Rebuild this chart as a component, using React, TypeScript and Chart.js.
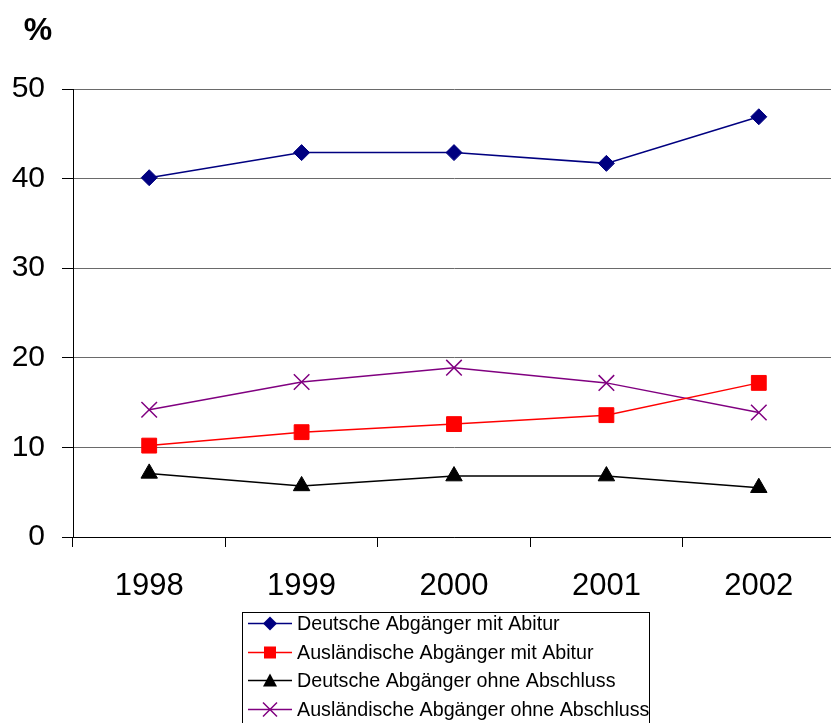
import React, { useEffect, useRef } from 'react';
import { Chart, registerables } from 'chart.js';

Chart.register(...registerables);

const years = ['1998', '1999', '2000', '2001', '2002'];
const deutscheMitAbitur = [40.1, 42.9, 42.9, 41.7, 46.9];
const auslaendischeMitAbitur = [10.2, 11.7, 12.6, 13.6, 17.2];
const deutscheOhneAbschluss = [7.1, 5.7, 6.8, 6.8, 5.5];
const auslaendischeOhneAbschluss = [14.2, 17.3, 18.9, 17.2, 13.9];
const seriesNames = [
  'Deutsche Abgänger mit Abitur',
  'Ausländische Abgänger mit Abitur',
  'Deutsche Abgänger ohne Abschluss',
  'Ausländische Abgänger ohne Abschluss',
];
const seriesColors = ['#000080', '#FF0000', '#000000', '#800080'];
const seriesStyles = ['rectRot', 'rect', 'triangle', 'crossRot'];
const yMin = 0;
const yMax = 50;
const yStep = 10;
const unitLabel = '%';

const FONT = '"Liberation Sans", Arial, Helvetica, sans-serif';

function drawMarker(ctx: CanvasRenderingContext2D, style: string, x: number, y: number, color: string) {
  ctx.save();
  ctx.fillStyle = color;
  ctx.strokeStyle = color;
  ctx.lineWidth = 1.5;
  ctx.beginPath();
  if (style === 'rectRot') {
    const r = 7;
    ctx.moveTo(x, y - r);
    ctx.lineTo(x + r, y);
    ctx.lineTo(x, y + r);
    ctx.lineTo(x - r, y);
    ctx.closePath();
    ctx.fill();
  } else if (style === 'rect') {
    const h = 6;
    ctx.rect(x - h, y - h, 2 * h, 2 * h);
    ctx.fill();
  } else if (style === 'triangle') {
    const h = 7;
    ctx.moveTo(x, y - h);
    ctx.lineTo(x + h, y + h * 0.85);
    ctx.lineTo(x - h, y + h * 0.85);
    ctx.closePath();
    ctx.fill();
  } else {
    const h = 7;
    ctx.moveTo(x - h, y - h);
    ctx.lineTo(x + h, y + h);
    ctx.moveTo(x + h, y - h);
    ctx.lineTo(x - h, y + h);
    ctx.stroke();
  }
  ctx.restore();
}

const decorPlugin = {
  id: 'decor',
  afterDraw(chart: any) {
    const ctx: CanvasRenderingContext2D = chart.ctx;
    ctx.save();
    ctx.fillStyle = '#000';
    ctx.font = `bold 32px ${FONT}`;
    ctx.textAlign = 'center';
    ctx.textBaseline = 'middle';
    ctx.fillText(unitLabel, 38, 31);

    ctx.strokeStyle = '#000';
    ctx.lineWidth = 1;
    ctx.strokeRect(242.5, 612.5, 407, 200);
    ctx.font = `19.7px ${FONT}`;
    ctx.textAlign = 'left';
    ctx.textBaseline = 'middle';
    seriesNames.forEach((name, i) => {
      const y = Math.round(623 + i * 28.5) + 0.5;
      ctx.strokeStyle = seriesColors[i];
      ctx.lineWidth = 1.5;
      ctx.beginPath();
      ctx.moveTo(248, y);
      ctx.lineTo(292, y);
      ctx.stroke();
      drawMarker(ctx, seriesStyles[i], 270, y, seriesColors[i]);
      ctx.fillStyle = '#000';
      ctx.fillText(name, 297, y + 1);
    });
    ctx.restore();
  },
};

export default function App() {
  const ref = useRef<HTMLCanvasElement>(null);

  useEffect(() => {
    if (!ref.current) return;
    const values = [deutscheMitAbitur, auslaendischeMitAbitur, deutscheOhneAbschluss, auslaendischeOhneAbschluss];
    const radii = [8, 10.5, 9.5, 11];
    const chart = new Chart(ref.current, {
      type: 'line',
      data: {
        labels: years,
        datasets: values.map((v, i) => ({
          label: seriesNames[i],
          data: v,
          borderColor: seriesColors[i],
          backgroundColor: seriesColors[i],
          borderWidth: 1.5,
          pointStyle: seriesStyles[i] as any,
          pointRadius: radii[i],
          pointBorderWidth: i === 3 ? 1.5 : 1,
          pointBackgroundColor: seriesColors[i],
          pointBorderColor: seriesColors[i],
          tension: 0,
          fill: false,
          clip: false as any,
        })),
      },
      options: {
        responsive: false,
        animation: false,
        events: [],
        layout: { autoPadding: false, padding: { top: 89, left: 0, right: 0, bottom: 0 } },
        plugins: {
          legend: { display: false },
          tooltip: { enabled: false },
          title: { display: false },
        },
        scales: {
          x: {
            offset: true,
            afterFit: (s: any) => { s.height = 186; s.paddingLeft = 0; s.paddingRight = 0; },
            grid: {
              offset: true,
              drawOnChartArea: false,
              drawTicks: true,
              tickLength: 10,
              color: '#000',
            },
            border: { display: true, color: '#000', width: 1 },
            ticks: {
              color: '#000',
              font: { family: FONT, size: 31 },
              padding: 21,
            },
          },
          y: {
            min: yMin,
            max: yMax,
            afterFit: (s: any) => { s.width = 73; },
            ticks: {
              stepSize: yStep,
              color: '#000',
              font: { family: FONT, size: 30 },
              padding: 17,
            },
            grid: {
              color: '#6a6a6a',
              lineWidth: 1,
              tickLength: 11,
              tickColor: '#000',
            },
            border: { display: true, color: '#000', width: 1 },
          },
        },
      },
      plugins: [decorPlugin],
    });
    return () => chart.destroy();
  }, []);

  return (
    <div style={{ position: 'fixed', left: 0, top: 0, width: 831, height: 723, overflow: 'hidden', background: '#fff' }}>
      <canvas ref={ref} width={835} height={723} style={{ display: 'block', width: 835, height: 723 }} />
    </div>
  );
}
